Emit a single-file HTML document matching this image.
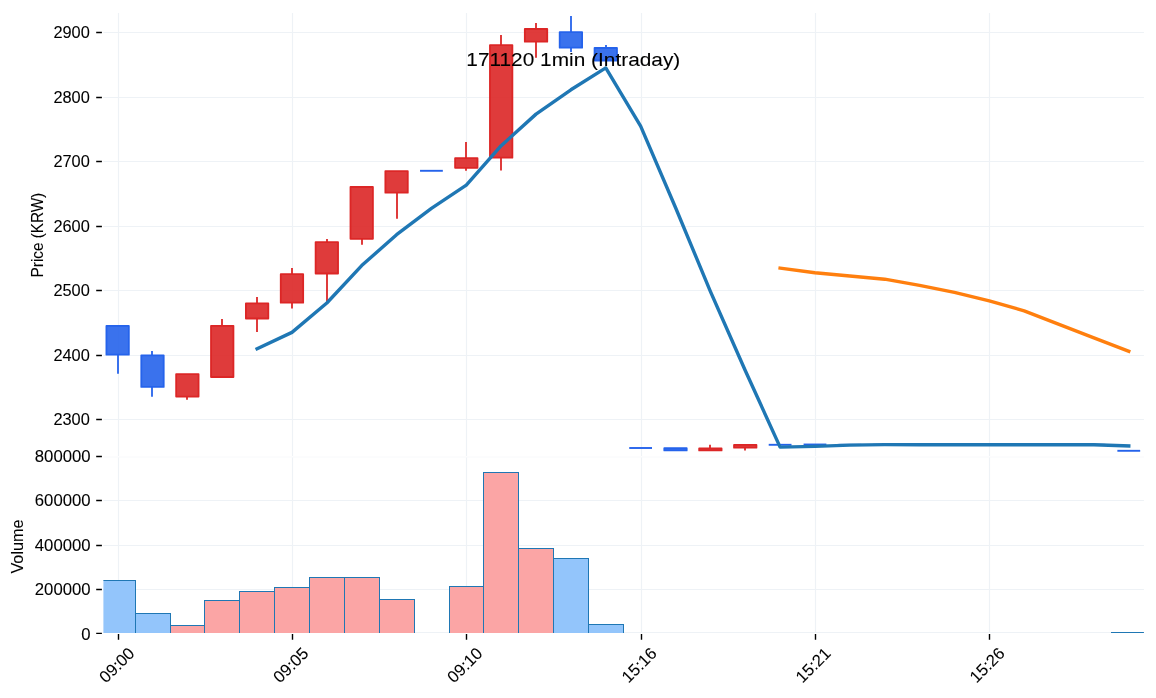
<!DOCTYPE html><html><head><meta charset="utf-8"><style>html,body{margin:0;padding:0;background:#fff;}svg{display:block;will-change:transform;}text{font-family:"Liberation Sans",sans-serif;fill:#000;stroke:#000;stroke-width:0.08px;}</style></head><body>
<svg width="1156" height="698" viewBox="0 0 1156 698">
<defs><clipPath id="cv"><rect x="103.4" y="440" width="1040.5" height="193.0"/></clipPath></defs>
<path d="M103.4 32.5H1143.9M103.4 97.5H1143.9M103.4 161.5H1143.9M103.4 226.5H1143.9M103.4 290.5H1143.9M103.4 355.5H1143.9M103.4 419.5H1143.9M103.4 500.5H1143.9M103.4 545.5H1143.9M103.4 589.5H1143.9M103.4 632.5H1143.9M118.5 13V456M118.5 457.2V632M292.5 13V456M292.5 457.2V632M466.5 13V456M466.5 457.2V632M641.5 13V456M641.5 457.2V632M815.5 13V456M815.5 457.2V632M989.5 13V456M989.5 457.2V632" stroke="#eef2f6" stroke-width="1.2" fill="none"/>
<path d="M103.4 457H1143.9" stroke="#f8f9fb" stroke-width="1" fill="none"/>
<path d="M96.2 32.5H101.9M96.2 97.5H101.9M96.2 161.5H101.9M96.2 226.5H101.9M96.2 290.5H101.9M96.2 355.5H101.9M96.2 419.5H101.9M96.2 456.5H101.9M96.2 500.5H101.9M96.2 545.5H101.9M96.2 589.5H101.9M96.2 633.4H101.9M118.5 634V639.7M292.5 634V639.7M466.5 634V639.7M641.5 634V639.7M815.5 634V639.7M989.5 634V639.7" stroke="#000" stroke-width="1.4" fill="none"/>
<text x="89.8" y="37.5" font-size="16.6" text-anchor="end" textLength="36.4" lengthAdjust="spacingAndGlyphs">2900</text>
<text x="89.8" y="102.5" font-size="16.6" text-anchor="end" textLength="36.4" lengthAdjust="spacingAndGlyphs">2800</text>
<text x="89.8" y="166.5" font-size="16.6" text-anchor="end" textLength="36.4" lengthAdjust="spacingAndGlyphs">2700</text>
<text x="89.8" y="231.5" font-size="16.6" text-anchor="end" textLength="36.4" lengthAdjust="spacingAndGlyphs">2600</text>
<text x="89.8" y="295.5" font-size="16.6" text-anchor="end" textLength="36.4" lengthAdjust="spacingAndGlyphs">2500</text>
<text x="89.8" y="360.5" font-size="16.6" text-anchor="end" textLength="36.4" lengthAdjust="spacingAndGlyphs">2400</text>
<text x="89.8" y="424.5" font-size="16.6" text-anchor="end" textLength="36.4" lengthAdjust="spacingAndGlyphs">2300</text>
<text x="90.6" y="461.5" font-size="16.6" text-anchor="end" textLength="55.8" lengthAdjust="spacingAndGlyphs">800000</text>
<text x="90.6" y="505.5" font-size="16.6" text-anchor="end" textLength="55.8" lengthAdjust="spacingAndGlyphs">600000</text>
<text x="90.6" y="550.5" font-size="16.6" text-anchor="end" textLength="55.8" lengthAdjust="spacingAndGlyphs">400000</text>
<text x="90.6" y="594.5" font-size="16.6" text-anchor="end" textLength="55.8" lengthAdjust="spacingAndGlyphs">200000</text>
<text x="90.6" y="639.9" font-size="16.6" text-anchor="end" textLength="9.3" lengthAdjust="spacingAndGlyphs">0</text>
<text transform="translate(42.8 277.4) rotate(-90)" font-size="15.6" textLength="84.6" lengthAdjust="spacingAndGlyphs">Price (KRW)</text>
<text transform="translate(22.9 573.6) rotate(-90)" font-size="16" textLength="54.2" lengthAdjust="spacingAndGlyphs">Volume</text>
<text transform="translate(116.9 665.3) rotate(-45)" font-size="16.6" text-anchor="middle" dominant-baseline="central">09:00</text>
<text transform="translate(290.9 665.3) rotate(-45)" font-size="16.6" text-anchor="middle" dominant-baseline="central">09:05</text>
<text transform="translate(464.9 665.3) rotate(-45)" font-size="16.6" text-anchor="middle" dominant-baseline="central">09:10</text>
<text transform="translate(639.2 665.3) rotate(-45)" font-size="16.6" text-anchor="middle" dominant-baseline="central">15:16</text>
<text transform="translate(813.2 665.3) rotate(-45)" font-size="16.6" text-anchor="middle" dominant-baseline="central">15:21</text>
<text transform="translate(987.2 665.3) rotate(-45)" font-size="16.6" text-anchor="middle" dominant-baseline="central">15:26</text>
<rect clip-path="url(#cv)" x="100.50" y="580.50" width="35.00" height="53.10" fill="#93c5fb" stroke="#1f77b4" stroke-width="1"/>
<rect clip-path="url(#cv)" x="135.50" y="613.50" width="35.00" height="20.10" fill="#93c5fb" stroke="#1f77b4" stroke-width="1"/>
<rect clip-path="url(#cv)" x="170.50" y="625.50" width="34.00" height="8.10" fill="#fba5a5" stroke="#1f77b4" stroke-width="1"/>
<rect clip-path="url(#cv)" x="204.50" y="600.50" width="35.00" height="33.10" fill="#fba5a5" stroke="#1f77b4" stroke-width="1"/>
<rect clip-path="url(#cv)" x="239.50" y="591.50" width="35.00" height="42.10" fill="#fba5a5" stroke="#1f77b4" stroke-width="1"/>
<rect clip-path="url(#cv)" x="274.50" y="587.50" width="35.00" height="46.10" fill="#fba5a5" stroke="#1f77b4" stroke-width="1"/>
<rect clip-path="url(#cv)" x="309.50" y="577.50" width="35.00" height="56.10" fill="#fba5a5" stroke="#1f77b4" stroke-width="1"/>
<rect clip-path="url(#cv)" x="344.50" y="577.50" width="35.00" height="56.10" fill="#fba5a5" stroke="#1f77b4" stroke-width="1"/>
<rect clip-path="url(#cv)" x="379.50" y="599.50" width="35.00" height="34.10" fill="#fba5a5" stroke="#1f77b4" stroke-width="1"/>
<rect clip-path="url(#cv)" x="449.50" y="586.50" width="34.00" height="47.10" fill="#fba5a5" stroke="#1f77b4" stroke-width="1"/>
<rect clip-path="url(#cv)" x="483.50" y="472.50" width="35.00" height="161.10" fill="#fba5a5" stroke="#1f77b4" stroke-width="1"/>
<rect clip-path="url(#cv)" x="518.50" y="548.50" width="35.00" height="85.10" fill="#fba5a5" stroke="#1f77b4" stroke-width="1"/>
<rect clip-path="url(#cv)" x="553.50" y="558.50" width="35.00" height="75.10" fill="#93c5fb" stroke="#1f77b4" stroke-width="1"/>
<rect clip-path="url(#cv)" x="588.50" y="624.50" width="35.00" height="9.10" fill="#93c5fb" stroke="#1f77b4" stroke-width="1"/>
<rect clip-path="url(#cv)" x="1111.50" y="632.50" width="35.00" height="1.10" fill="#93c5fb" stroke="#1f77b4" stroke-width="1"/>
<path d="M118.00 354.60V373.80" stroke="#2563eb" stroke-width="1.8"/>
<path d="M152.00 351.10V355.40" stroke="#2563eb" stroke-width="1.8"/>
<path d="M152.00 386.80V396.70" stroke="#2563eb" stroke-width="1.8"/>
<path d="M187.00 396.50V399.80" stroke="#dc2626" stroke-width="1.8"/>
<path d="M222.00 318.90V325.90" stroke="#dc2626" stroke-width="1.8"/>
<path d="M257.00 297.00V303.50" stroke="#dc2626" stroke-width="1.8"/>
<path d="M257.00 318.40V332.00" stroke="#dc2626" stroke-width="1.8"/>
<path d="M292.00 268.10V274.30" stroke="#dc2626" stroke-width="1.8"/>
<path d="M292.00 302.60V308.60" stroke="#dc2626" stroke-width="1.8"/>
<path d="M327.00 239.10V242.20" stroke="#dc2626" stroke-width="1.8"/>
<path d="M327.00 273.40V301.50" stroke="#dc2626" stroke-width="1.8"/>
<path d="M362.00 238.70V244.80" stroke="#dc2626" stroke-width="1.8"/>
<path d="M397.00 192.60V218.80" stroke="#dc2626" stroke-width="1.8"/>
<path d="M466.00 142.10V158.30" stroke="#dc2626" stroke-width="1.8"/>
<path d="M466.00 167.70V170.80" stroke="#dc2626" stroke-width="1.8"/>
<path d="M501.00 34.90V45.20" stroke="#dc2626" stroke-width="1.8"/>
<path d="M501.00 157.60V170.60" stroke="#dc2626" stroke-width="1.8"/>
<path d="M536.00 22.90V29.10" stroke="#dc2626" stroke-width="1.8"/>
<path d="M536.00 41.60V57.70" stroke="#dc2626" stroke-width="1.8"/>
<path d="M571.00 16.10V32.20" stroke="#2563eb" stroke-width="1.8"/>
<path d="M571.00 47.60V51.90" stroke="#2563eb" stroke-width="1.8"/>
<path d="M606.00 44.90V48.10" stroke="#2563eb" stroke-width="1.8"/>
<path d="M710.00 444.80V448.50" stroke="#dc2626" stroke-width="1.8"/>
<path d="M745.00 447.60V450.40" stroke="#dc2626" stroke-width="1.8"/>
<rect x="106.43" y="325.90" width="22.40" height="28.80" fill="#2563eb" fill-opacity="0.9" stroke="#2563eb" stroke-width="1.80" stroke-linejoin="round"/>
<rect x="141.30" y="355.30" width="22.40" height="31.60" fill="#2563eb" fill-opacity="0.9" stroke="#2563eb" stroke-width="1.80" stroke-linejoin="round"/>
<rect x="176.16" y="374.10" width="22.40" height="22.50" fill="#dc2626" fill-opacity="0.9" stroke="#dc2626" stroke-width="1.80" stroke-linejoin="round"/>
<rect x="211.03" y="325.80" width="22.40" height="51.20" fill="#dc2626" fill-opacity="0.9" stroke="#dc2626" stroke-width="1.80" stroke-linejoin="round"/>
<rect x="245.90" y="303.40" width="22.40" height="15.10" fill="#dc2626" fill-opacity="0.9" stroke="#dc2626" stroke-width="1.80" stroke-linejoin="round"/>
<rect x="280.76" y="274.20" width="22.40" height="28.50" fill="#dc2626" fill-opacity="0.9" stroke="#dc2626" stroke-width="1.80" stroke-linejoin="round"/>
<rect x="315.63" y="242.10" width="22.40" height="31.40" fill="#dc2626" fill-opacity="0.9" stroke="#dc2626" stroke-width="1.80" stroke-linejoin="round"/>
<rect x="350.50" y="187.00" width="22.40" height="51.80" fill="#dc2626" fill-opacity="0.9" stroke="#dc2626" stroke-width="1.80" stroke-linejoin="round"/>
<rect x="385.37" y="171.10" width="22.40" height="21.60" fill="#dc2626" fill-opacity="0.9" stroke="#dc2626" stroke-width="1.80" stroke-linejoin="round"/>
<path d="M420.03 170.80H442.83" stroke="#2563eb" stroke-width="1.9"/>
<rect x="455.10" y="158.20" width="22.40" height="9.60" fill="#dc2626" fill-opacity="0.9" stroke="#dc2626" stroke-width="1.80" stroke-linejoin="round"/>
<rect x="489.97" y="45.10" width="22.40" height="112.60" fill="#dc2626" fill-opacity="0.9" stroke="#dc2626" stroke-width="1.80" stroke-linejoin="round"/>
<rect x="524.83" y="29.00" width="22.40" height="12.70" fill="#dc2626" fill-opacity="0.9" stroke="#dc2626" stroke-width="1.80" stroke-linejoin="round"/>
<rect x="559.70" y="32.10" width="22.40" height="15.60" fill="#2563eb" fill-opacity="0.9" stroke="#2563eb" stroke-width="1.80" stroke-linejoin="round"/>
<rect x="594.57" y="48.00" width="22.40" height="12.50" fill="#2563eb" fill-opacity="0.9" stroke="#2563eb" stroke-width="1.80" stroke-linejoin="round"/>
<path d="M629.24 448.00H652.03" stroke="#2563eb" stroke-width="1.9"/>
<rect x="664.30" y="448.20" width="22.40" height="2.20" fill="#2563eb" fill-opacity="0.9" stroke="#2563eb" stroke-width="1.80" stroke-linejoin="round"/>
<rect x="699.17" y="448.40" width="22.40" height="2.00" fill="#dc2626" fill-opacity="0.9" stroke="#dc2626" stroke-width="1.80" stroke-linejoin="round"/>
<rect x="734.04" y="444.90" width="22.40" height="2.80" fill="#dc2626" fill-opacity="0.9" stroke="#dc2626" stroke-width="1.80" stroke-linejoin="round"/>
<path d="M768.70 444.80H791.50" stroke="#2563eb" stroke-width="1.9"/>
<path d="M803.57 444.50H826.37" stroke="#2563eb" stroke-width="1.9"/>
<path d="M838.44 444.80H861.24" stroke="#2563eb" stroke-width="1.9"/>
<path d="M873.30 444.80H896.10" stroke="#2563eb" stroke-width="1.9"/>
<path d="M908.17 444.80H930.97" stroke="#2563eb" stroke-width="1.9"/>
<path d="M943.04 444.80H965.84" stroke="#2563eb" stroke-width="1.9"/>
<path d="M977.90 444.80H1000.70" stroke="#2563eb" stroke-width="1.9"/>
<path d="M1012.77 444.80H1035.57" stroke="#2563eb" stroke-width="1.9"/>
<path d="M1047.64 444.80H1070.44" stroke="#2563eb" stroke-width="1.9"/>
<path d="M1082.51 444.80H1105.31" stroke="#2563eb" stroke-width="1.9"/>
<path d="M1117.37 450.80H1140.17" stroke="#2563eb" stroke-width="1.9"/>
<polyline points="257.10,348.80 291.96,332.34 326.83,303.02 361.70,265.60 396.57,234.66 431.43,208.32 466.30,185.12 501.17,145.72 536.03,114.12 570.90,89.80 605.77,67.92 640.63,126.06 675.50,207.48 710.37,291.36 745.24,370.44 780.10,447.12 814.97,446.42 849.84,445.12 884.70,444.58 919.57,444.74 954.44,444.74 989.30,444.80 1024.17,444.80 1059.04,444.80 1093.91,444.80 1128.77,446.00" fill="none" stroke="#1f77b4" stroke-width="3.4" stroke-linejoin="round" stroke-linecap="square"/>
<polyline points="780.10,268.10 814.97,272.80 849.84,276.00 884.70,279.20 919.57,285.30 954.44,292.40 989.30,300.90 1024.17,310.80 1059.04,324.30 1093.91,337.80 1128.77,351.30" fill="none" stroke="#ff7f0e" stroke-width="3.4" stroke-linejoin="round" stroke-linecap="square"/>
<text x="466.3" y="65.8" font-size="17.9" textLength="214" lengthAdjust="spacingAndGlyphs">171120 1min (Intraday)</text>
</svg></body></html>
